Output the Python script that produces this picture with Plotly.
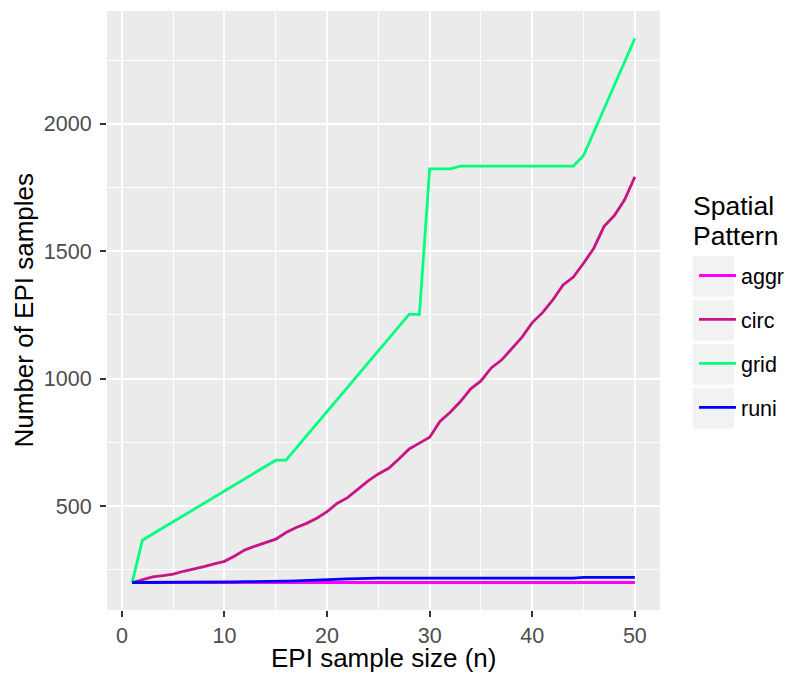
import plotly.graph_objects as go

# ---- data ----
n = list(range(1, 51))

aggr = [200] * 50

circ = [200, 211, 222, 227, 233, 244, 252, 262, 273, 283,
        304, 328, 343, 356, 370, 396, 416, 432, 452, 478,
        511, 533, 565, 599, 626, 648, 685, 724, 747, 770,
        832, 868, 910, 960, 991, 1042, 1073, 1120, 1163, 1220,
        1259, 1309, 1368, 1399, 1453, 1512, 1598, 1640, 1702, 1792]

grid = [200, 366, 390, 414, 438, 463, 487, 511, 535, 559,
        583, 607, 632, 656, 680, 680, 728, 775, 823, 871,
        918, 966, 1014, 1061, 1109, 1157, 1204, 1252, 1252, 1823,
        1823, 1823, 1834, 1834, 1834, 1834, 1834, 1834, 1834, 1834,
        1834, 1834, 1834, 1834, 1876, 1968, 2060, 2151, 2243, 2335]

runi = [200, 200, 200, 200, 200, 200, 200, 200, 200, 202,
        202, 203, 203, 204, 204, 205, 206, 208, 210, 211,
        213, 214, 215, 217, 217, 217, 217, 217, 217, 217,
        217, 217, 217, 217, 217, 217, 217, 217, 217, 217,
        217, 217, 217, 217, 220, 220, 220, 220, 220, 220]

series_names = ["aggr", "circ", "grid", "runi"]
series_values = [aggr, circ, grid, runi]
series_colors = ["#FF00FF", "#C71585", "#00FF7F", "#0000FF"]

x_ticks = [0, 10, 20, 30, 40, 50]
y_ticks = [500, 1000, 1500, 2000]

FONT = "Liberation Sans, Arial, sans-serif"

fig = go.Figure()
for name, vals, col in zip(series_names, series_values, series_colors):
    fig.add_trace(go.Scatter(x=n, y=vals, mode="lines", name=name,
                             legendgroup=name,
                             line=dict(color=col, width=2.8)))

W, H = 787, 674
ml, mr, mt, mb = 107, 127, 11, 64
pw, ph = W - ml - mr, H - mt - mb

def px_x(px):
    return (px - ml) / pw

def px_y(py):
    return (H - mb - py) / ph

# legend key backgrounds
shapes = []
for i in range(4):
    top = 256 + 44 * i
    shapes.append(dict(type="rect", xref="paper", yref="paper",
                       x0=px_x(693), x1=px_x(734),
                       y0=px_y(top + 40.5), y1=px_y(top),
                       fillcolor="#F2F2F2", line=dict(width=0), layer="below"))

annotations = [
    dict(text="Number of EPI samples", xref="paper", yref="paper",
         x=px_x(23), y=0.5, textangle=-90, showarrow=False,
         xanchor="center", yanchor="middle",
         font=dict(family=FONT, size=26, color="black")),
    dict(text="EPI sample size (n)", xref="paper", yref="paper",
         x=0.5, y=px_y(658.5), showarrow=False,
         xanchor="center", yanchor="middle",
         font=dict(family=FONT, size=26, color="black")),
    dict(text="Spatial", xref="paper", yref="paper",
         x=px_x(691), y=px_y(205.7), showarrow=False,
         xanchor="left", yanchor="middle",
         font=dict(family=FONT, size=26.5, color="black")),
    dict(text="Pattern", xref="paper", yref="paper",
         x=px_x(691), y=px_y(235.7), showarrow=False,
         xanchor="left", yanchor="middle",
         font=dict(family=FONT, size=26.5, color="black")),
]

axis_common = dict(
    showgrid=True, gridcolor="white", gridwidth=2.1,
    zeroline=False, showline=False,
    ticks="outside", ticklen=6, tickwidth=2, tickcolor="#333333",
    tickfont=dict(family=FONT, size=21.5, color="#4D4D4D"),
)

fig.update_layout(
    width=W, height=H,
    margin=dict(l=ml, r=mr, t=mt, b=mb),
    paper_bgcolor="white", plot_bgcolor="#EBEBEB",
    font=dict(family=FONT),
    xaxis=dict(range=[-1.45, 52.45], tickmode="array", tickvals=x_ticks,
               minor=dict(dtick=5, tick0=0, showgrid=True, gridcolor="white",
                          gridwidth=1.05, ticks=""),
               **axis_common),
    yaxis=dict(range=[92, 2443], tickmode="array", tickvals=y_ticks,
               ticklabelstandoff=4,
               minor=dict(dtick=250, tick0=0, showgrid=True, gridcolor="white",
                          gridwidth=1.05, ticks=""),
               **axis_common),
    showlegend=True,
    legend=dict(xref="container", yref="container",
                x=694 / W, y=(H - 255) / H, xanchor="left", yanchor="top",
                bgcolor="rgba(0,0,0,0)", tracegroupgap=13, itemwidth=37,
                font=dict(family=FONT, size=21.5, color="black")),
    shapes=shapes,
    annotations=annotations,
)

fig.write_html("out.html",
               config={"displayModeBar": False},
               post_script="document.body.style.margin='0';document.body.style.overflow='hidden';")
